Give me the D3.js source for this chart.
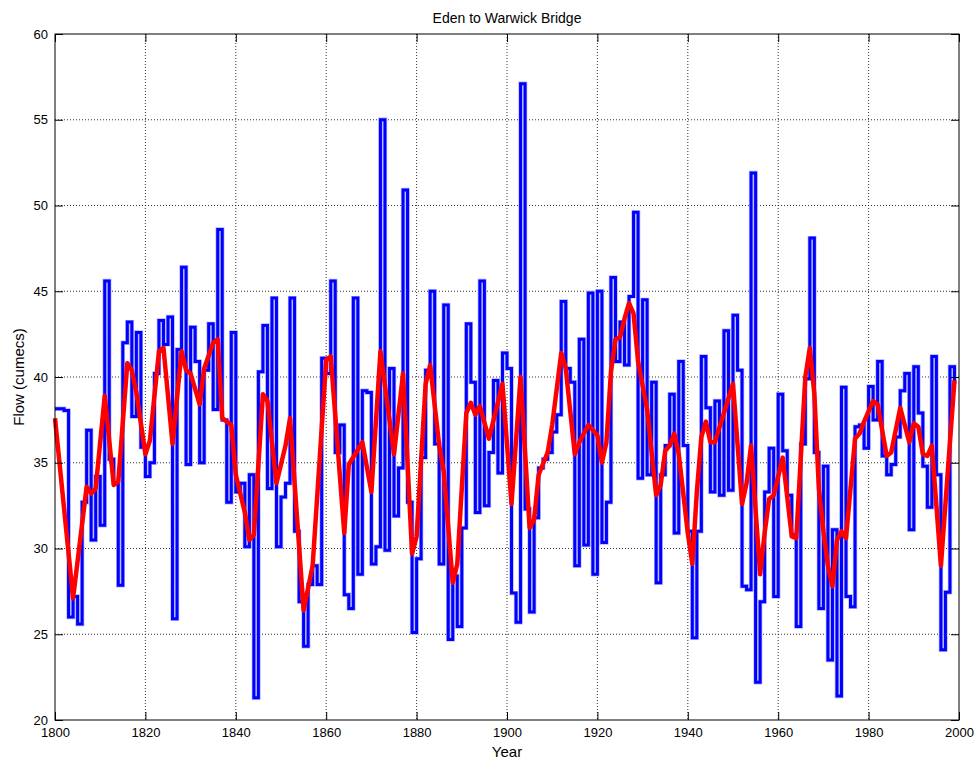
<!DOCTYPE html>
<html>
<head>
<meta charset="utf-8">
<script src="https://cdn.jsdelivr.net/npm/d3@7"></script>
<style>
  body { margin: 0; background: #fff; }
  svg { display: block; font-family: "Liberation Sans", Arial, Helvetica, sans-serif; }
</style>
</head>
<body>
<svg id="chart" width="980" height="763"></svg>
<script>
// Annual flow, Eden to Warwick Bridge (cumecs), one value per year from 1800
const firstYear = 1800;
const annualFlow = [
  38.15, 38.15, 38.05, 26.0, 27.2, 25.6, 32.7, 36.9, 30.5, 34.2,   // 1800s
  31.35, 45.6, 35.2, 33.8, 27.85, 42.0, 43.2, 37.7, 42.6, 35.9,    // 1810s
  34.2, 35.0, 40.2, 43.3, 41.9, 43.5, 25.9, 41.6, 46.4, 34.9,      // 1820s
  42.9, 40.9, 35.0, 40.4, 43.1, 38.1, 48.6, 37.5, 32.7, 42.6,      // 1830s
  33.3, 33.8, 30.1, 34.3, 21.3, 40.3, 43.0, 33.5, 44.6, 30.1,      // 1840s
  33.0, 33.8, 44.6, 31.0, 26.9, 24.3, 27.9, 29.0, 27.9, 41.1,      // 1850s
  40.2, 45.6, 35.6, 37.2, 27.3, 26.5, 44.6, 28.5, 39.2, 39.1,      // 1860s
  29.1, 30.1, 55.0, 29.9, 40.5, 31.9, 34.7, 50.9, 32.7, 25.1,      // 1870s
  29.4, 35.3, 40.4, 45.0, 36.1, 29.1, 44.2, 24.7, 28.4, 25.45,     // 1880s
  31.2, 43.1, 39.7, 32.1, 45.6, 32.5, 35.6, 39.8, 34.4, 41.4,      // 1890s
  40.5, 27.4, 25.7, 57.1, 32.3, 26.3, 31.8, 34.7, 35.2, 35.6,      // 1900s
  36.8, 37.8, 44.4, 40.5, 39.7, 29.0, 42.2, 30.2, 44.9, 28.5,      // 1910s
  45.0, 30.35, 32.7, 45.8, 40.9, 43.2, 40.7, 44.7, 49.6, 34.1,     // 1920s
  44.5, 34.3, 39.7, 28.0, 34.3, 36.0, 39.0, 30.9, 40.9, 36.0,      // 1930s
  31.0, 24.8, 31.0, 41.2, 38.2, 33.3, 38.6, 33.1, 42.7, 33.4,      // 1940s
  43.6, 40.4, 27.8, 27.6, 51.9, 22.2, 26.9, 33.3, 35.85, 27.2,     // 1950s
  39.0, 35.7, 33.1, 30.8, 25.45, 36.1, 39.9, 48.1, 35.6, 26.5,     // 1960s
  34.8, 23.5, 31.1, 21.4, 39.4, 27.2, 26.6, 37.1, 37.2, 35.85,     // 1970s
  39.45, 37.5, 40.9, 35.4, 34.3, 34.9, 36.5, 39.2, 40.2, 31.1,     // 1980s
  40.6, 37.9, 34.8, 32.4, 41.2, 34.3, 24.1, 27.45, 40.6, 39.6      // 1990s
];

// Smoothed flow trend (cumecs) at the years where the curve turns
const trendYears = [
  1800, 1804, 1807, 1808, 1809, 1811, 1813, 1814, 1816, 1817, 1818, 1820, 1821, 1823, 1824,
  1826, 1828, 1829, 1830, 1832, 1833, 1835, 1836, 1837, 1839, 1840, 1842, 1843, 1844, 1846,
  1847, 1849, 1851, 1852, 1855, 1857, 1860, 1861, 1864, 1865, 1868, 1870, 1872, 1875, 1877,
  1879, 1880, 1882, 1883, 1885, 1886, 1888, 1889, 1891, 1892, 1893, 1894, 1896, 1899, 1901,
  1903, 1905, 1906, 1907, 1909, 1910, 1912, 1913, 1915, 1916, 1918, 1920, 1921, 1922, 1923,
  1924, 1925, 1926, 1927, 1928, 1929, 1931, 1933, 1934, 1935, 1936, 1937, 1938, 1940, 1941,
  1942, 1943, 1944, 1945, 1946, 1948, 1950, 1952, 1953, 1954, 1956, 1957, 1958, 1959, 1961,
  1963, 1964, 1966, 1967, 1968, 1969, 1970, 1971, 1972, 1973, 1974, 1975, 1977, 1978, 1979,
  1981, 1982, 1984, 1985, 1987, 1989, 1990, 1991, 1992, 1993, 1994, 1996, 1999
];
const trendFlow = [
  37.6, 27.1, 33.6, 33.2, 33.5, 38.9, 33.7, 33.9, 40.8, 40.4, 39.1, 35.5, 36.3, 41.5, 41.7,
  36.1, 41.5, 40.4, 40.2, 38.4, 40.5, 42.0, 42.2, 37.6, 37.2, 34.3, 32.1, 30.5, 30.8, 39.0,
  38.6, 33.8, 36.0, 37.6, 26.4, 29.0, 41.0, 41.2, 30.9, 34.9, 36.2, 33.3, 41.5, 35.5, 40.2,
  29.7, 30.7, 39.6, 40.7, 36.0, 34.5, 28.0, 29.1, 37.9, 38.5, 37.8, 38.3, 36.4, 39.6, 32.6,
  40.0, 31.2, 31.7, 34.3, 35.6, 37.2, 41.4, 40.5, 35.5, 36.2, 37.2, 36.6, 35.0, 36.2, 40.3,
  42.2, 42.3, 43.4, 44.3, 43.7, 40.9, 38.1, 33.1, 33.7, 35.7, 36.0, 36.7, 35.5, 30.9, 29.1,
  33.3, 36.5, 37.4, 36.2, 36.2, 37.9, 39.6, 32.6, 33.8, 36.0, 28.5, 30.9, 32.9, 33.1, 35.3,
  30.7, 30.6, 40.0, 41.7, 39.0, 33.5, 31.0, 29.0, 27.8, 30.5, 31.0, 30.6, 36.4, 36.7, 37.4,
  38.6, 38.4, 35.4, 35.6, 38.2, 36.2, 37.3, 37.1, 35.5, 35.4, 36.0, 29.0, 39.8
];

const xTicks = [1800, 1820, 1840, 1860, 1880, 1900, 1920, 1940, 1960, 1980, 2000];
const yTicks = [20, 25, 30, 35, 40, 45, 50, 55, 60];

const titleText = "Eden to Warwick Bridge";
const xLabel = "Year";
const yLabel = "Flow (cumecs)";

const annual = annualFlow.map((v, i) => ({ year: firstYear + i, flow: v }));
const trend = trendYears.map((yr, i) => ({ year: yr, flow: trendFlow[i] }));

const W = 980, H = 763;
const margin = { top: 34, right: 21, bottom: 43, left: 55 };
const innerW = W - margin.left - margin.right;
const innerH = H - margin.top - margin.bottom;

const svg = d3.select("#chart");
const g = svg.append("g").attr("transform", `translate(${margin.left},${margin.top})`);

const x = d3.scaleLinear().domain([1800, 2000]).range([0, innerW]);
const y = d3.scaleLinear().domain([20, 60]).range([innerH, 0]);

// dotted grid
const grid = g.append("g").attr("class", "grid");
grid.selectAll("line.vx")
  .data(xTicks.slice(1, -1))
  .join("line")
  .attr("x1", d => x(d)).attr("x2", d => x(d))
  .attr("y1", 0).attr("y2", innerH)
  .attr("stroke", "#000").attr("stroke-width", 1)
  .attr("stroke-dasharray", "1,2").attr("opacity", 0.8);
grid.selectAll("line.hy")
  .data(yTicks.slice(1, -1))
  .join("line")
  .attr("x1", 0).attr("x2", innerW)
  .attr("y1", d => y(d)).attr("y2", d => y(d))
  .attr("stroke", "#000").attr("stroke-width", 1)
  .attr("stroke-dasharray", "1,2").attr("opacity", 0.8);

// annual flow as a stair trace: pale halo under a solid blue stroke
const stair = d3.line()
  .x(d => x(d.year))
  .y(d => y(d.flow))
  .curve(d3.curveStepAfter);

g.append("path")
  .datum(annual)
  .attr("d", stair)
  .attr("fill", "none")
  .attr("stroke", "#b4b4ff")
  .attr("stroke-width", 4.4);

g.append("path")
  .datum(annual)
  .attr("d", stair)
  .attr("fill", "none")
  .attr("stroke", "#0000ff")
  .attr("stroke-width", 3)
  .attr("stroke-linejoin", "miter");

// smoothed trend
const trendLine = d3.line()
  .x(d => x(d.year))
  .y(d => y(d.flow));

g.append("path")
  .datum(trend)
  .attr("d", trendLine)
  .attr("fill", "none")
  .attr("stroke", "#ff0000")
  .attr("stroke-width", 4.5)
  .attr("stroke-linejoin", "round");

// axes with inward ticks on all four sides
const tick = 8;
const axB = g.append("g").attr("transform", `translate(0,${innerH})`)
  .call(d3.axisBottom(x).tickValues(xTicks).tickFormat(d3.format("d"))
    .tickSizeInner(-tick).tickSizeOuter(0).tickPadding(8));
const axT = g.append("g")
  .call(d3.axisTop(x).tickValues(xTicks).tickFormat("")
    .tickSizeInner(-tick).tickSizeOuter(0));
const axL = g.append("g")
  .call(d3.axisLeft(y).tickValues(yTicks).tickFormat(d3.format("d"))
    .tickSizeInner(-tick).tickSizeOuter(0).tickPadding(7));
const axR = g.append("g").attr("transform", `translate(${innerW},0)`)
  .call(d3.axisRight(y).tickValues(yTicks).tickFormat("")
    .tickSizeInner(-tick).tickSizeOuter(0));

[axB, axT, axL, axR].forEach(a => {
  a.select(".domain").remove();
  a.selectAll(".tick line").attr("stroke", "#000");
  a.selectAll("text").attr("fill", "#000").style("font-size", "13px")
    .style("font-family", "'Liberation Sans', Arial, Helvetica, sans-serif");
});

// frame
g.append("rect")
  .attr("x", 0).attr("y", 0).attr("width", innerW).attr("height", innerH)
  .attr("fill", "none").attr("stroke", "#000").attr("stroke-width", 1);

// titles
svg.append("text")
  .attr("x", margin.left + innerW / 2).attr("y", 23)
  .attr("text-anchor", "middle").style("font-size", "14px")
  .text(titleText);
svg.append("text")
  .attr("x", margin.left + innerW / 2).attr("y", 757)
  .attr("text-anchor", "middle").style("font-size", "15px")
  .text(xLabel);
svg.append("text")
  .attr("transform", `translate(24,${margin.top + innerH / 2}) rotate(-90)`)
  .attr("text-anchor", "middle").style("font-size", "15px")
  .text(yLabel);
</script>
</body>
</html>
